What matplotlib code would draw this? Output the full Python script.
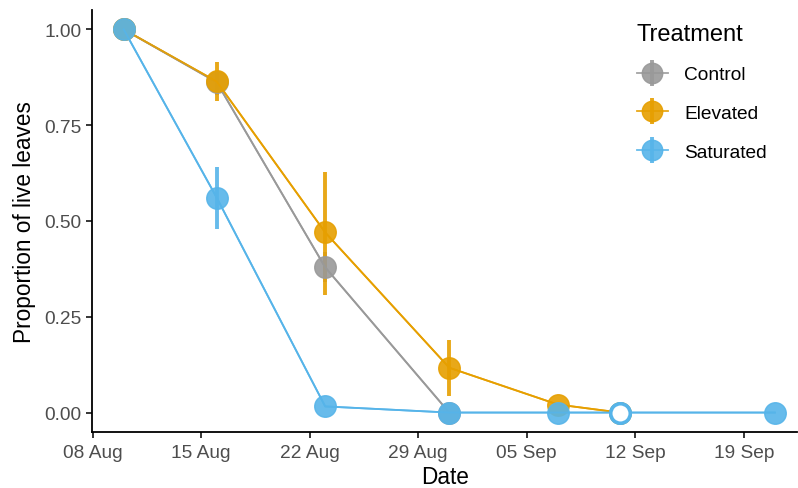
import numpy as np
import matplotlib.pyplot as plt
from matplotlib.legend_handler import HandlerErrorbar
from matplotlib.container import ErrorbarContainer

plt.rcParams['font.family'] = ['Liberation Sans', 'DejaVu Sans']

# Proportion of live leaves per treatment and survey date
control_dates = ['2023-08-10', '2023-08-16', '2023-08-23', '2023-08-31']
control_prop = [1.00, 0.862, 0.379, 0.0]
control_lo = [1.00, 0.83, 0.34, 0.0]
control_hi = [1.00, 0.89, 0.42, 0.0]

elevated_dates = ['2023-08-10', '2023-08-16', '2023-08-23', '2023-08-31', '2023-09-07', '2023-09-11']
elevated_prop = [1.00, 0.864, 0.47, 0.117, 0.021, 0.0]
elevated_lo = [1.00, 0.812, 0.308, 0.044, 0.021, 0.0]
elevated_hi = [1.00, 0.916, 0.629, 0.19, 0.021, 0.0]

saturated_dates = ['2023-08-10', '2023-08-16', '2023-08-23', '2023-08-31', '2023-09-07', '2023-09-11', '2023-09-21']
saturated_prop = [1.00, 0.561, 0.016, 0.0, 0.0, 0.0, 0.0]
saturated_lo = [1.00, 0.48, 0.016, 0.0, 0.0, 0.0, 0.0]
saturated_hi = [1.00, 0.64, 0.016, 0.0, 0.0, 0.0, 0.0]
saturated_open = [False, False, False, False, False, True, False]

treatments = ['Control', 'Elevated', 'Saturated']
colors = ['#999999', '#E69F00', '#56B4E9']

tick_dates = ['2023-08-08', '2023-08-15', '2023-08-22', '2023-08-29',
              '2023-09-05', '2023-09-12', '2023-09-19']
tick_labels = ['08 Aug', '15 Aug', '22 Aug', '29 Aug', '05 Sep', '12 Sep', '19 Sep']

series = [
    (control_dates, control_prop, control_lo, control_hi),
    (elevated_dates, elevated_prop, elevated_lo, elevated_hi),
    (saturated_dates, saturated_prop, saturated_lo, saturated_hi),
]

fig = plt.figure(figsize=(7.98, 4.89), dpi=100)
ax = fig.add_axes([92 / 798, 0.1151, 0.884, 0.862])

handles = []
for name, col, (d, p, lo, hi) in zip(treatments, colors, series):
    x = np.array(d, dtype='datetime64[D]')
    p = np.array(p)
    err = np.vstack([p - np.array(lo), np.array(hi) - p])
    ax.plot(x, p, color=col, lw=1.3, zorder=2)
    h = ax.errorbar(x, p, yerr=err, fmt='-o', color=col, ms=15.5, alpha=0.9,
                    elinewidth=2.8, capsize=0, lw=0, zorder=3, label=name)
    h.lines[0].set_linewidth(1.3)
    handles.append(h)

# open marker for the saturated survey on 11 Sep
sx = np.array(saturated_dates, dtype='datetime64[D]')[saturated_open]
sy = np.array(saturated_prop)[saturated_open]
ax.plot(sx, sy, 'o', ms=14, mfc='white', mec=colors[2], mew=2.5, zorder=5)

ax.set_xlim(np.datetime64('2023-08-07T23:00'), np.datetime64('2023-09-22T11:00'))
ax.set_ylim(-0.05, 1.05)
ax.set_xticks(np.array(tick_dates, dtype='datetime64[D]'))
ax.set_xticklabels(tick_labels)
ax.set_yticks([0, 0.25, 0.5, 0.75, 1.0])
ax.set_yticklabels(['0.00', '0.25', '0.50', '0.75', '1.00'])

for s in ['top', 'right']:
    ax.spines[s].set_visible(False)
for s in ['left', 'bottom']:
    ax.spines[s].set_linewidth(1.3)
ax.tick_params(length=4, width=1.1, labelsize=13.8, labelcolor='#4D4D4D', pad=3.5)
ax.tick_params(axis='x', pad=5)

ax.set_xlabel('Date', fontsize=16.3, labelpad=2.5)
ax.set_ylabel('Proportion of live leaves', fontsize=16.3, labelpad=6)

leg = ax.legend(handles=handles, title='Treatment', loc='upper left',
                bbox_to_anchor=(627 / 798, 1 - 14 / 489), bbox_transform=fig.transFigure,
                frameon=False, fontsize=13.8, title_fontsize=17, borderpad=0,
                handlelength=1.62, handletextpad=0.85, labelspacing=1.11,
                markerscale=0.95,
                handler_map={ErrorbarContainer: HandlerErrorbar(yerr_size=0.68)})
leg._legend_box.align = 'left'

fig.savefig('out.png', dpi=100)
